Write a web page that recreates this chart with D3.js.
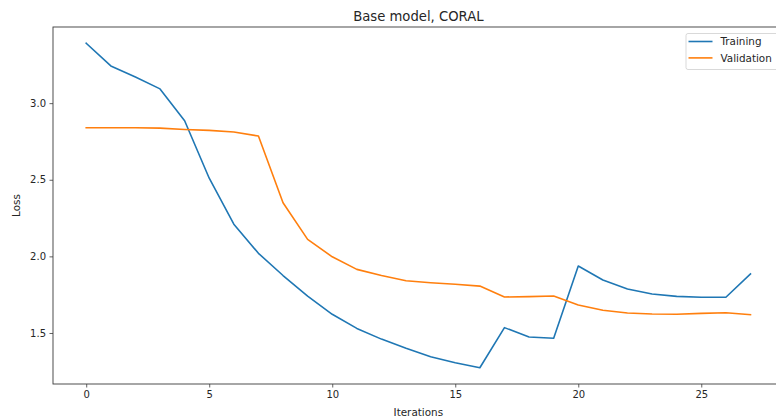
<!DOCTYPE html>
<html>
<head>
<meta charset="utf-8">
<script src="https://cdn.jsdelivr.net/npm/d3@7"></script>
<style>
  html, body { margin: 0; padding: 0; background: #fff; }
  svg { display: block; font-family: "DejaVu Sans", sans-serif; }
</style>
</head>
<body>
<svg id="chart" width="776" height="418"></svg>
<script>
// Loss per iteration
const iterations = d3.range(0, 28);
const trainingLoss = [3.391, 3.243, 3.170, 3.093, 2.885, 2.510, 2.210, 2.020, 1.875, 1.740,
                      1.622, 1.530, 1.460, 1.400, 1.345, 1.306, 1.273, 1.535, 1.474, 1.466,
                      1.937, 1.846, 1.787, 1.754, 1.739, 1.733, 1.733, 1.885];
const validationLoss = [2.839, 2.839, 2.839, 2.837, 2.828, 2.822, 2.812, 2.785, 2.350, 2.111,
                        1.997, 1.915, 1.875, 1.841, 1.828, 1.818, 1.806, 1.735, 1.737, 1.741,
                        1.683, 1.648, 1.630, 1.624, 1.622, 1.628, 1.632, 1.619];
const xTicks = [0, 5, 10, 15, 20, 25];
const yTicks = [1.5, 2.0, 2.5, 3.0];
const seriesNames = ["Training", "Validation"];
const seriesColors = ["#1f77b4", "#ff7f0e"];

const svg = d3.select("#chart");
const plotLeft = 53, plotRight = 783.7, plotTop = 27, plotBottom = 384;

// autoscale with 5% margins on both axes
const xMin = d3.min(iterations), xMax = d3.max(iterations);
const xPad = (xMax - xMin) * 0.05;
const allY = trainingLoss.concat(validationLoss);
const yMin = d3.min(allY), yMax = d3.max(allY);
const yPad = (yMax - yMin) * 0.05;

const x = d3.scaleLinear().domain([xMin - xPad, xMax + xPad]).range([plotLeft, plotRight]);
const y = d3.scaleLinear().domain([yMin - yPad, yMax + yPad]).range([plotBottom, plotTop]);

const textColor = "#262626";
const spineColor = "#3a3a3a";

// lines
const line = d3.line().x((d, i) => x(iterations[i])).y(d => y(d));
[trainingLoss, validationLoss].forEach((s, k) => {
  svg.append("path")
    .datum(s)
    .attr("d", line)
    .attr("fill", "none")
    .attr("stroke", seriesColors[k])
    .attr("stroke-width", 1.6)
    .attr("stroke-linejoin", "round")
    .attr("stroke-linecap", "square");
});

// axes
const xAxis = d3.axisBottom(x).tickValues(xTicks).tickFormat(d3.format("d")).tickSize(3.5).tickPadding(3.5);
const yAxis = d3.axisLeft(y).tickValues(yTicks).tickFormat(d3.format(".1f")).tickSize(3.5).tickPadding(3.5);

const gx = svg.append("g").attr("transform", `translate(0,${plotBottom})`).call(xAxis);
const gy = svg.append("g").attr("transform", `translate(${plotLeft},0)`).call(yAxis);
[gx, gy].forEach(g => {
  g.select(".domain").remove();
  g.selectAll(".tick line").attr("stroke", spineColor).attr("stroke-width", 0.8);
  g.selectAll(".tick text").attr("fill", textColor).style("font-size", "10px")
    .style("font-family", "'DejaVu Sans', sans-serif");
});

// spines
svg.append("rect")
  .attr("x", plotLeft).attr("y", plotTop)
  .attr("width", plotRight - plotLeft).attr("height", plotBottom - plotTop)
  .attr("fill", "none").attr("stroke", spineColor).attr("stroke-width", 0.9);

// title and labels
svg.append("text")
  .attr("x", (plotLeft + plotRight) / 2).attr("y", 21)
  .attr("text-anchor", "middle").attr("fill", textColor)
  .style("font-size", "13.2px")
  .text("Base model, CORAL");

svg.append("text")
  .attr("x", (plotLeft + plotRight) / 2).attr("y", 416)
  .attr("text-anchor", "middle").attr("fill", textColor)
  .style("font-size", "10.4px")
  .text("Iterations");

svg.append("text")
  .attr("transform", `translate(20,${(plotTop + plotBottom) / 2}) rotate(-90)`)
  .attr("text-anchor", "middle").attr("fill", textColor)
  .style("font-size", "10.4px")
  .text("Loss");

// legend
const lg = svg.append("g").attr("transform", "translate(686,33.5)");
lg.append("rect")
  .attr("x", 0).attr("y", 0).attr("width", 110).attr("height", 36)
  .attr("rx", 2).attr("ry", 2)
  .attr("fill", "#fff").attr("fill-opacity", 0.8)
  .attr("stroke", "#d5d5d5").attr("stroke-width", 0.9);
seriesNames.forEach((name, i) => {
  const yy = 8 + i * 16.4;
  lg.append("line")
    .attr("x1", 2.5).attr("x2", 26.5).attr("y1", yy).attr("y2", yy)
    .attr("stroke", seriesColors[i]).attr("stroke-width", 1.6);
  lg.append("text")
    .attr("x", 34.5).attr("y", yy + 3.8)
    .attr("fill", textColor).style("font-size", "10.4px")
    .text(name);
});
</script>
</body>
</html>
